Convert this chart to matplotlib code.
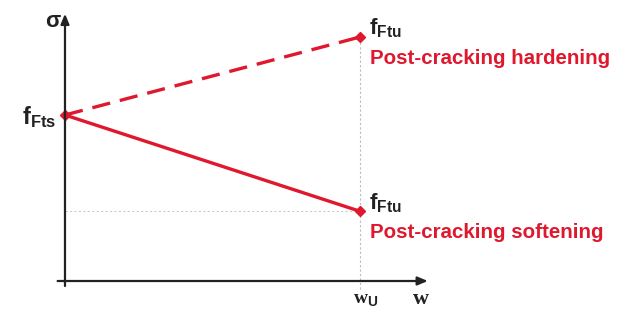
import matplotlib
matplotlib.use("Agg")
import matplotlib.pyplot as plt

# Data (normalised): crack opening w and stress sigma
w_points = [0.0, 1.0]
sigma_hardening = [1.0, 1.47]
sigma_softening = [1.0, 0.42]
labels_hard = "Post-cracking hardening"
labels_soft = "Post-cracking softening"

plt.rcParams['mathtext.fontset'] = 'custom'
plt.rcParams['mathtext.rm'] = 'Liberation Sans:bold'
plt.rcParams['mathtext.it'] = 'Liberation Sans:bold'
plt.rcParams['mathtext.bf'] = 'Liberation Sans:bold'

RED = '#e0182e'
DARK = '#222222'
fig = plt.figure(figsize=(6.23, 3.10), dpi=100)
ax = fig.add_axes([0, 0, 1, 1])
ax.set_xlim(-0.2203, 1.8915)
ax.set_ylim(-0.1747, 1.6928)
ax.axis('off')

# axes arrows
ax.annotate('', xy=(0, 1.61), xytext=(0, -0.03),
            arrowprops=dict(arrowstyle='-|>,head_length=0.6,head_width=0.25', color=DARK, lw=1.6,
                            shrinkA=0, shrinkB=0))
ax.annotate('', xy=(1.23, 0), xytext=(-0.025, 0),
            arrowprops=dict(arrowstyle='-|>,head_length=0.6,head_width=0.25', color=DARK, lw=1.6,
                            shrinkA=0, shrinkB=0))

# guide lines
ax.plot([w_points[1], w_points[1]], [-0.05, sigma_hardening[1]], color='#bbbbbb', lw=0.8, ls=(0, (2, 2)))
ax.plot([0, w_points[1]], [sigma_softening[1], sigma_softening[1]], color='#cccccc', lw=0.8, ls=(0, (2, 2)))

# curves
ax.plot(w_points, sigma_hardening, color=RED, lw=2.4, ls=(0, (5.5, 3)))
ax.plot(w_points, sigma_softening, color=RED, lw=2.4)
ax.plot([w_points[0], w_points[1], w_points[1]],
        [sigma_hardening[0], sigma_hardening[1], sigma_softening[1]],
        ls='none', marker='D', ms=5, color=RED)

# labels
ax.text(-0.017, 1.566, 'σ', fontsize=16, fontweight='bold', family='Liberation Sans',
        ha='right', va='center', color=DARK)
ax.text(-0.03, sigma_hardening[0] - 0.01, r'$\mathrm{f}_{\mathrm{Fts}}$', fontsize=17,
        ha='right', va='center', color=DARK)
ax.text(1.03, sigma_hardening[1] - 0.02, r'$\mathrm{f}_{\mathrm{Ftu}}$', fontsize=16,
        ha='left', va='bottom', color=DARK)
ax.text(1.03, sigma_softening[1] - 0.02, r'$\mathrm{f}_{\mathrm{Ftu}}$', fontsize=16,
        ha='left', va='bottom', color=DARK)
ax.text(1.035, sigma_hardening[1] - 0.075, labels_hard, fontsize=14.8, fontweight='bold',
        family='Liberation Sans', color=RED, ha='left', va='top')
ax.text(1.035, sigma_softening[1] - 0.07, labels_soft, fontsize=14.8, fontweight='bold',
        family='Liberation Sans', color=RED, ha='left', va='top')
ax.text(w_points[1] + 0.02, -0.06, r'w$_{\mathrm{U}}$', fontsize=14, fontweight='bold',
        family='Liberation Serif', color=DARK, ha='center', va='top')
ax.text(1.207, -0.05, 'w', fontsize=16, fontweight='bold',
        family='Liberation Serif', color=DARK, ha='center', va='top')

fig.savefig('out.png', dpi=100)
